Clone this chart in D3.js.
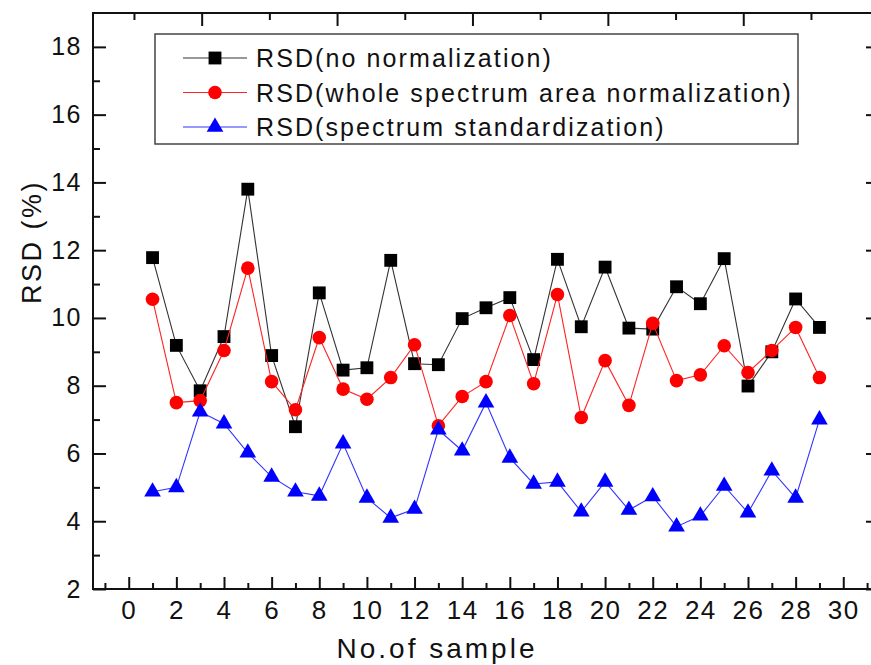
<!DOCTYPE html>
<html>
<head>
<meta charset="utf-8">
<script src="https://cdnjs.cloudflare.com/ajax/libs/d3/7.8.5/d3.min.js"></script>
<style>
  body { margin: 0; background: #fff; }
  svg { display: block; font-family: "Liberation Sans", Arial, sans-serif; }
  .tick text { fill: #111; }
</style>
</head>
<body>
<svg id="chart"></svg>
<script>
// sample numbers 1..29
const samples = d3.range(1, 30);

const rsdNoNorm = [11.78, 9.19, 7.85, 9.45, 13.8, 8.89, 6.79, 10.74, 8.46, 8.53,
    11.7, 8.65, 8.62, 9.98, 10.3, 10.6, 8.77, 11.73, 9.74, 11.5,
    9.7, 9.67, 10.92, 10.42, 11.75, 7.99, 9.0, 10.56, 9.72];
const rsdAreaNorm = [10.55, 7.5, 7.56, 9.04, 11.47, 8.12, 7.29, 9.42, 7.9, 7.6,
    8.24, 9.21, 6.82, 7.68, 8.12, 10.07, 8.06, 10.69, 7.06, 8.74,
    7.42, 9.84, 8.15, 8.32, 9.18, 8.39, 9.04, 9.72, 8.24];
const rsdStandard = [4.87, 5.0, 7.23, 6.88, 6.02, 5.31, 4.87, 4.75, 6.29, 4.69,
    4.1, 4.36, 6.7, 6.08, 7.5, 5.87, 5.1, 5.16, 4.28, 5.16,
    4.33, 4.73, 3.84, 4.16, 5.04, 4.25, 5.49, 4.69, 7.0];

const seriesNames = [
    "RSD(no normalization)",
    "RSD(whole spectrum area normalization)",
    "RSD(spectrum standardization)"
];

const xTicks = d3.range(0, 31, 2);
const xMinor = d3.range(-1, 32, 2);
const yTicks = d3.range(2, 19, 2);
const yMinor = d3.range(3, 19, 2);

const width = 871;
const height = 665;
const margin = {top: 13, right: -8, bottom: 76, left: 93};
const W = width - margin.left - margin.right;
const H = height - margin.top - margin.bottom;

const svg = d3.select("#chart")
    .attr("width", width)
    .attr("height", height);

const g = svg.append("g")
    .attr("transform", `translate(${margin.left},${margin.top})`);

const x = d3.scaleLinear().domain([-1.5, 31.5]).range([0, W]);
const y = d3.scaleLinear().domain([2, 19]).range([H, 0]);
// the top frame carries its own odd tick spacing
const xTop = d3.scaleLinear().domain([0.79, 0.79 + W / 33.85]).range([0, W]);

const series = [
    {name: seriesNames[0], values: rsdNoNorm, line: "#333", fill: "#000", symbol: d3.symbolSquare, size: 165},
    {name: seriesNames[1], values: rsdAreaNorm, line: "#f22", fill: "#f00", symbol: d3.symbolCircle, size: 145},
    {name: seriesNames[2], values: rsdStandard, line: "#33f", fill: "#00f", symbol: d3.symbolTriangle, size: 120}
];

function styleAxis(sel) {
    sel.select(".domain").remove();
    sel.selectAll(".tick line").attr("stroke", "#111").attr("stroke-width", 2);
}

// bottom axis
g.append("g")
    .attr("transform", `translate(0,${H})`)
    .call(d3.axisBottom(x).tickValues(xMinor).tickSize(-6).tickFormat(""))
    .call(styleAxis);
g.append("g")
    .attr("transform", `translate(0,${H})`)
    .call(d3.axisBottom(x).tickValues(xTicks).tickSize(-12).tickPadding(12))
    .call(styleAxis)
    .selectAll("text")
    .attr("font-size", 26)
    .attr("letter-spacing", 1.5);

// left axis
g.append("g")
    .call(d3.axisLeft(y).tickValues(yMinor).tickSize(-7).tickFormat(""))
    .call(styleAxis);
g.append("g")
    .call(d3.axisLeft(y).tickValues(yTicks).tickSize(-13).tickPadding(11))
    .call(styleAxis)
    .selectAll("text")
    .attr("font-size", 25)
    .attr("letter-spacing", 1.5);

// right axis (ticks only)
g.append("g")
    .attr("transform", `translate(${W},0)`)
    .call(d3.axisRight(y).tickValues(yMinor).tickSize(-7).tickFormat(""))
    .call(styleAxis);
g.append("g")
    .attr("transform", `translate(${W},0)`)
    .call(d3.axisRight(y).tickValues(yTicks).tickSize(-13).tickFormat(""))
    .call(styleAxis);

// top axis
g.append("g")
    .call(d3.axisTop(xTop).tickValues(d3.range(2, 23, 4)).tickSize(-7).tickFormat(""))
    .call(styleAxis);
g.append("g")
    .call(d3.axisTop(xTop).tickValues(d3.range(4, 23, 4)).tickSize(-13).tickFormat(""))
    .call(styleAxis);

// frame
g.append("rect")
    .attr("width", W)
    .attr("height", H)
    .attr("fill", "none")
    .attr("stroke", "#111")
    .attr("stroke-width", 2);

// lines and markers
const line = d3.line()
    .x((d, i) => x(samples[i]))
    .y(d => y(d));

series.forEach(s => {
    g.append("path")
        .datum(s.values)
        .attr("fill", "none")
        .attr("stroke", s.line)
        .attr("stroke-width", 1.1)
        .attr("d", line);

    g.selectAll(null)
        .data(s.values)
        .enter()
        .append("path")
        .attr("transform", (d, i) => `translate(${x(samples[i])},${y(d)})`)
        .attr("d", d3.symbol().type(s.symbol).size(s.size))
        .attr("fill", s.fill);
});

// legend
const legend = svg.append("g").attr("transform", "translate(155,34)");
legend.append("rect")
    .attr("width", 643)
    .attr("height", 110)
    .attr("fill", "#fff")
    .attr("stroke", "#444")
    .attr("stroke-width", 1.5);

const item = legend.selectAll("g.item")
    .data(series)
    .enter()
    .append("g")
    .attr("class", "item")
    .attr("transform", (d, i) => `translate(0,${24 + i * 34.5})`);

item.append("line")
    .attr("x1", 28).attr("x2", 92)
    .attr("stroke", d => d.line)
    .attr("stroke-width", 1.1);
item.append("path")
    .attr("transform", "translate(60,0)")
    .attr("d", d => d3.symbol().type(d.symbol).size(d.size)())
    .attr("fill", d => d.fill);
item.append("text")
    .attr("x", 101)
    .attr("dy", "0.36em")
    .attr("font-size", 25)
    .attr("letter-spacing", 2.1)
    .attr("fill", "#111")
    .text(d => d.name);

// axis titles
svg.append("text")
    .attr("transform", "translate(41,242) rotate(-90)")
    .attr("text-anchor", "middle")
    .attr("font-size", 27)
    .attr("letter-spacing", 2.5)
    .attr("fill", "#111")
    .text("RSD (%)");

svg.append("text")
    .attr("x", 437)
    .attr("y", 658)
    .attr("text-anchor", "middle")
    .attr("font-size", 28)
    .attr("letter-spacing", 3)
    .attr("fill", "#111")
    .text("No.of sample");
</script>
</body>
</html>
